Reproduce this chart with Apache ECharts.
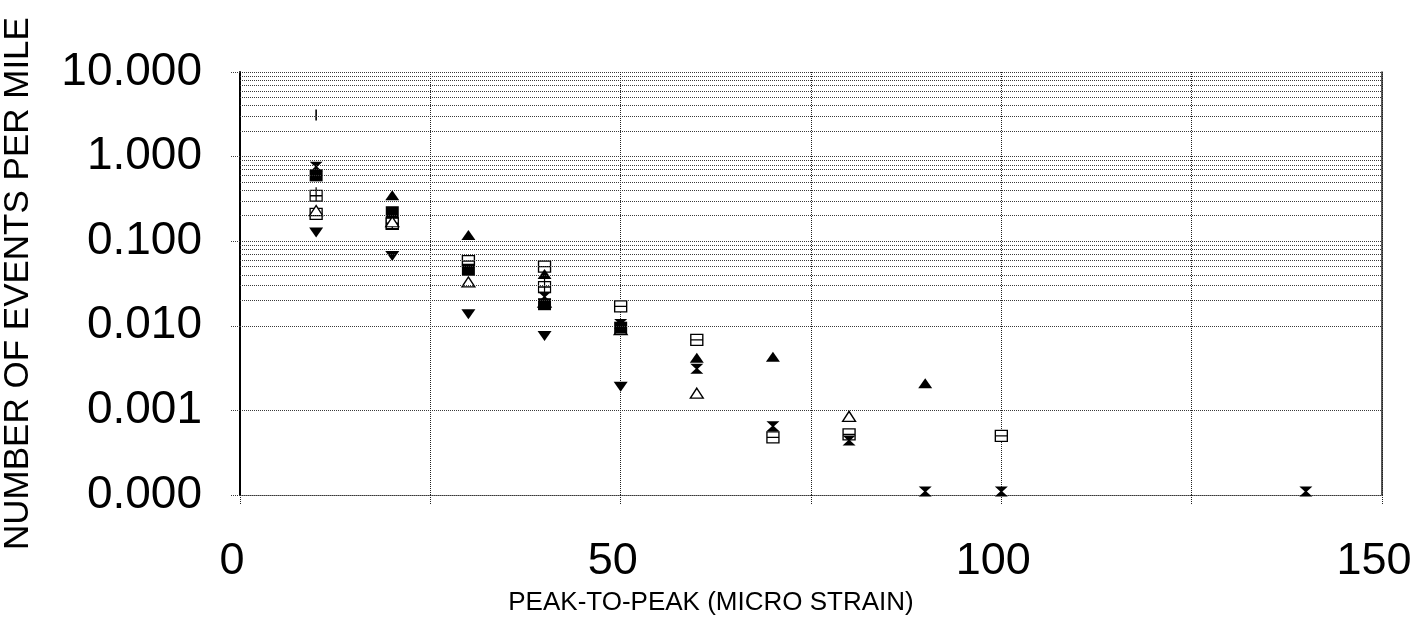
<!DOCTYPE html>
<html>
<head>
<meta charset="utf-8">
<script src="https://cdn.jsdelivr.net/npm/echarts@6/dist/echarts.min.js"></script>
<style>
html,body{margin:0;padding:0;background:#fff;}
#chart{width:1426px;height:631px;}
</style>
</head>
<body>
<div id="chart"></div>
<script>
// ---- data (x = peak-to-peak micro strain, y = events per mile) ----
const xTickLabels = [0, 50, 100, 150];
const yTickLabels = ['0.000', '0.001', '0.010', '0.100', '1.000', '10.000'];

const filledSquare = [[10, 0.60], [20, 0.22], [30, 0.046], [40, 0.018], [50, 0.0095]];
const gridSquare   = [[10, 0.36], [20, 0.17], [40, 0.030]];
const hollowSquare = [[10, 0.21], [20, 0.16], [30, 0.058], [40, 0.050], [50, 0.017], [60, 0.0068], [70, 0.00048], [80, 0.00052], [100, 0.00050]];
const filledUp     = [[20, 0.35], [30, 0.118], [40, 0.041], [60, 0.0042], [70, 0.0043], [90, 0.0021]];
const hollowUp     = [[10, 0.23], [20, 0.17], [30, 0.033], [40, 0.019], [50, 0.009], [60, 0.0016], [80, 0.00085]];
const filledDown   = [[10, 0.127], [20, 0.067], [30, 0.0137], [40, 0.0076], [50, 0.0019]];
const hourglass    = [[10, 0.76], [40, 0.022], [50, 0.0105], [60, 0.0031], [70, 0.00065], [80, 0.00044], [90, 0.00011], [100, 0.00011], [140, 0.00011]];
const dashMark     = [[10, 3.1]];

// ---- styling ----
const FONT = 'Liberation Sans, Arial, Helvetica, sans-serif';
const gridGray = '#3a3a3a';

const minorLines = [];
for (let e = -4; e <= 0; e++) {
  for (let k = 2; k <= 9; k++) minorLines.push({ yAxis: k * Math.pow(10, e) });
}

const chart = echarts.init(document.getElementById('chart'), null, { renderer: 'canvas' });

const filled = { color: '#000', opacity: 1 };
const hollow = { color: '#fff', borderColor: '#000', borderWidth: 1.3, opacity: 1 };

function sc(name, data, symbol, size, style, extra) {
  return Object.assign({
    name: name, type: 'scatter', data: data, symbol: symbol, symbolSize: size,
    itemStyle: style, z: 3, silent: true, animation: false
  }, extra || {});
}

chart.setOption({
  animation: false,
  backgroundColor: '#fff',
  grid: { left: 240, right: 44, top: 72, bottom: 136, containLabel: false, outerBoundsMode: 'none' },
  xAxis: {
    type: 'value', min: 0, max: 150, interval: 25,
    name: 'PEAK-TO-PEAK (MICRO STRAIN)', nameLocation: 'middle', nameGap: 95,
    nameTextStyle: { fontFamily: FONT, fontSize: 26, color: '#000', padding: [0, 200, 0, 0] },
    axisLine: { show: true, lineStyle: { color: gridGray, type: 'dotted', width: 1 } },
    axisTick: { show: true, inside: false, length: 10, lineStyle: { color: '#222', type: 'dotted' } },
    axisLabel: {
      fontFamily: FONT, fontSize: 45, color: '#000', margin: 44, padding: [0, 16, 0, 0],
      formatter: v => (xTickLabels.indexOf(v) >= 0 ? String(v) : '')
    },
    splitLine: { show: true, lineStyle: { color: '#222', type: 'dotted', width: 1 } }
  },
  yAxis: [{
    type: 'log', logBase: 10, min: 0.0001, max: 10,
    name: 'NUMBER OF EVENTS PER MILE', nameLocation: 'middle', nameGap: 204, nameRotate: 90,
    nameTextStyle: { fontFamily: FONT, fontSize: 35, color: '#000' },
    axisLine: { show: true, lineStyle: { color: '#000', width: 2 } },
    axisTick: { show: true, length: 9, lineStyle: { color: gridGray, type: 'dotted' } },
    axisLabel: {
      fontFamily: FONT, fontSize: 46, color: '#000', margin: 38,
      formatter: v => {
        const i = Math.round(Math.log10(v)) + 4;
        return yTickLabels[i] !== undefined ? yTickLabels[i] : v.toFixed(3);
      }
    },
    splitLine: { show: true, lineStyle: { color: gridGray, type: 'dotted', width: 1 } }
  }, {
    type: 'log', logBase: 10, min: 0.0001, max: 10, position: 'right',
    axisLine: { show: true, lineStyle: { color: '#222', width: 1.5 } },
    axisTick: { show: false }, axisLabel: { show: false }, splitLine: { show: false }
  }],
  series: [
    {
      type: 'scatter', data: [], z: 1, silent: true,
      markLine: {
        silent: true, symbol: 'none', animation: false,
        label: { show: false },
        lineStyle: { color: gridGray, type: 'dotted', width: 1 },
        data: minorLines
      }
    },
    sc('dash', dashMark, 'rect', [1.6, 11], filled),
    sc('hollow square', hollowSquare, 'path://M0,0H10V10H0Z M0,5H10', [12, 11], hollow),
    sc('grid square', gridSquare, 'path://M0,3H10V13H0Z M5,0V13 M0,8H10', [12, 14], hollow),
    sc('hollow up', hollowUp, 'triangle', [13, 10], hollow),
    sc('filled square', filledSquare, 'rect', [13, 12], filled),
    sc('filled up', filledUp, 'triangle', [14, 10], filled),
    sc('filled down', filledDown, 'triangle', [14, 10], filled, { symbolRotate: 180 }),
    sc('hourglass', hourglass, 'path://M0,0L12,0L7,4.5L12,9L0,9L5,4.5Z', [13, 10], filled)
  ]
});
</script>
</body>
</html>
